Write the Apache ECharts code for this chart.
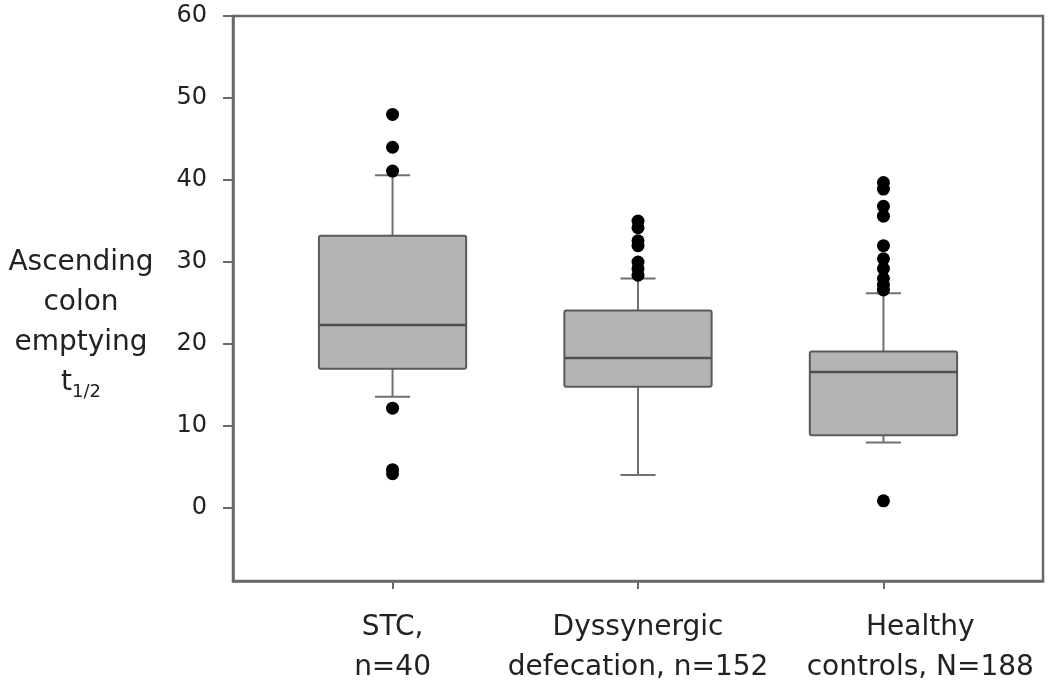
<!DOCTYPE html>
<html>
<head>
<meta charset="utf-8">
<script src="https://cdn.jsdelivr.net/npm/echarts@6/dist/echarts.min.js"></script>
<style>html,body{margin:0;padding:0;background:#fff;}#c{width:1050px;height:688px;}</style>
</head>
<body>
<div id="c"></div>
<script>
const categories = ['STC,\nn=40', 'Dyssynergic\ndefecation, n=152', 'Healthy\ncontrols, N=188'];
const categoryPos = [1, 2, 3];
const labelPos = [1, 2, 3.15];
const whiskerLow = [13.6, 4.05, 8.0];
const q1 = [17.0, 14.8, 8.9];
const median = [22.35, 18.3, 16.6];
const q3 = [33.2, 24.1, 19.1];
const whiskerHigh = [40.6, 28.0, 26.2];
const outliersSTC = [48.0, 44.0, 41.1, 12.2, 4.7, 4.2];
const outliersDys = [35.0, 34.2, 32.6, 32.0, 30.0, 29.2, 28.4];
const outliersHealthy = [39.7, 38.9, 36.8, 35.6, 32.0, 30.4, 29.2, 28.0, 27.2, 26.6, 0.9];
const yTicks = [0, 10, 20, 30, 40, 50, 60];
const yTitleLines = ['Ascending', 'colon', 'emptying', '{t|t}{s|1/2}'];

const boxData = categoryPos.map((x, i) => [x, whiskerLow[i], q1[i], median[i], q3[i], whiskerHigh[i]]);
const outlierData = []
  .concat(outliersSTC.map(v => [categoryPos[0], v]))
  .concat(outliersDys.map(v => [categoryPos[1], v]))
  .concat(outliersHealthy.map(v => [categoryPos[2], v]));

const FONT = 'DejaVu Sans';
const TXT = '#222';
const chart = echarts.init(document.getElementById('c'), null, {renderer: 'canvas'});

function renderBox(params, api) {
  const x = api.value(0);
  const pLow = api.coord([x, api.value(1)]);
  const pQ1 = api.coord([x, api.value(2)]);
  const pMed = api.coord([x, api.value(3)]);
  const pQ3 = api.coord([x, api.value(4)]);
  const pHigh = api.coord([x, api.value(5)]);
  const bw = api.size([0.6, 0])[0];
  const cw = api.size([0.143, 0])[0];
  const cx = pMed[0];
  const wStyle = {stroke: '#707070', lineWidth: 2};
  return {
    type: 'group',
    children: [
      {type: 'line', shape: {x1: cx, y1: pQ3[1], x2: cx, y2: pHigh[1]}, style: wStyle},
      {type: 'line', shape: {x1: cx, y1: pQ1[1], x2: cx, y2: pLow[1]}, style: wStyle},
      {type: 'line', shape: {x1: cx - cw / 2, y1: pHigh[1], x2: cx + cw / 2, y2: pHigh[1]}, style: wStyle},
      {type: 'line', shape: {x1: cx - cw / 2, y1: pLow[1], x2: cx + cw / 2, y2: pLow[1]}, style: wStyle},
      {type: 'rect', shape: {x: cx - bw / 2, y: pQ3[1], width: bw, height: pQ1[1] - pQ3[1], r: 2},
        style: {fill: '#b4b4b4', stroke: '#5a5a5a', lineWidth: 2}},
      {type: 'line', shape: {x1: cx - bw / 2, y1: pMed[1], x2: cx + bw / 2, y2: pMed[1]},
        style: {stroke: '#505050', lineWidth: 2.5}}
    ]
  };
}

const titleGraphics = yTitleLines.map((line, i) => ({
  type: 'text', x: 81, y: 263 + i * 40,
  style: {
    text: line, fontFamily: FONT, fontSize: 28, fill: TXT, align: 'center', verticalAlign: 'middle',
    rich: {
      t: {fontFamily: FONT, fontSize: 28, lineHeight: 36, color: TXT, verticalAlign: 'middle'},
      s: {fontFamily: FONT, fontSize: 18, lineHeight: 16, color: TXT, verticalAlign: 'bottom'}
    }
  }
}));

chart.setOption({
  animation: false,
  grid: {left: 233, top: 16, right: 7, bottom: 105, show: true, borderColor: '#6a6a6a', borderWidth: 2.5, backgroundColor: 'transparent'},
  xAxis: {
    type: 'value', min: 0.35, max: 3.65,
    splitLine: {show: false},
    axisLine: {show: true, onZero: false, lineStyle: {color: '#6a6a6a', width: 2.5}},
    axisTick: {show: true, inside: false, length: 8, customValues: categoryPos, lineStyle: {color: '#6a6a6a', width: 2}},
    axisLabel: {
      customValues: labelPos, margin: 27,
      formatter: v => {
        let best = 0;
        labelPos.forEach((p, i) => { if (Math.abs(p - v) < Math.abs(labelPos[best] - v)) best = i; });
        return categories[best];
      },
      fontFamily: FONT, fontSize: 28, lineHeight: 40, color: TXT, align: 'center'
    }
  },
  yAxis: {
    type: 'value', min: -8.87, max: 60,
    splitLine: {show: false},
    axisLine: {show: true, onZero: false, lineStyle: {color: '#6a6a6a', width: 2.5}},
    axisTick: {show: true, inside: false, length: 10, customValues: yTicks, lineStyle: {color: '#6a6a6a', width: 2}},
    axisLabel: {customValues: yTicks, margin: 26, fontFamily: FONT, fontSize: 24, color: TXT}
  },
  graphic: titleGraphics,
  series: [
    {type: 'custom', renderItem: renderBox, data: boxData, encode: {x: 0, y: [1, 2, 3, 4, 5]}, z: 2},
    {type: 'scatter', data: outlierData, symbol: 'circle', symbolSize: 13, itemStyle: {color: '#000', opacity: 1}, z: 3}
  ]
});
</script>
</body>
</html>
